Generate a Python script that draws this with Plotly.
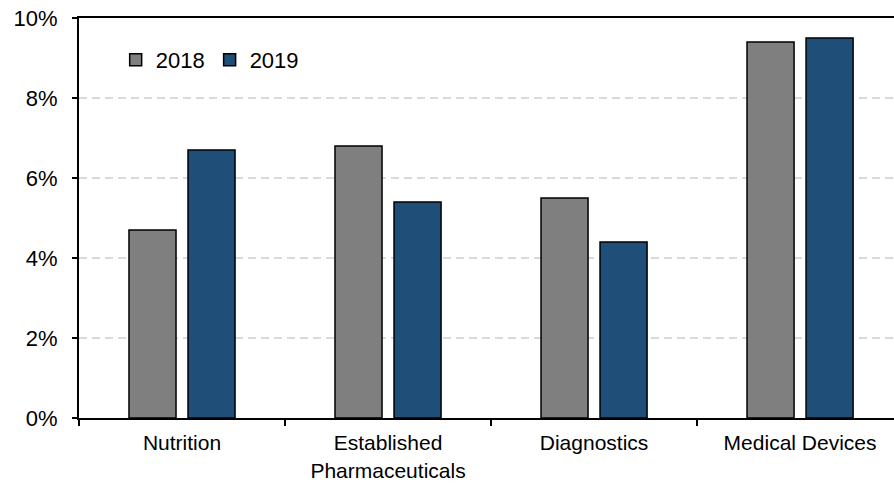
import plotly.graph_objects as go

categories = ["Nutrition", "Established<br>Pharmaceuticals", "Diagnostics", "Medical Devices"]
growth_2018 = [4.7, 6.8, 5.5, 9.4]
growth_2019 = [6.7, 5.4, 4.4, 9.5]
y_ticks = [0, 2, 4, 6, 8, 10]
y_tick_labels = ["0%", "2%", "4%", "6%", "8%", "10%"]

FONT = "Liberation Sans, Arial, sans-serif"

fig = go.Figure()
fig.add_trace(go.Bar(
    name="2018", x=categories, y=growth_2018,
    marker=dict(color="#7F7F7F", line=dict(color="#000000", width=1.5)),
))
fig.add_trace(go.Bar(
    name="2019", x=categories, y=growth_2019,
    marker=dict(color="#1F4E79", line=dict(color="#000000", width=1.5)),
))

fig.update_layout(
    width=894, height=485,
    margin=dict(l=79, r=0, t=18, b=67),
    paper_bgcolor="white", plot_bgcolor="white",
    font=dict(family=FONT, size=22, color="#000000"),
    barmode="group", bargap=0.427, bargroupgap=0.203,
    showlegend=True,
    legend=dict(
        orientation="h", x=0.045, y=0.895, xanchor="left", yanchor="middle",
        bgcolor="rgba(0,0,0,0)", font=dict(size=22), itemwidth=30,
        traceorder="normal",
    ),
)

fig.update_xaxes(
    type="category", range=[-0.5, 3.456], automargin=False,
    showline=True, linecolor="#000000", linewidth=2, mirror=True,
    ticks="outside", tickson="boundaries", ticklen=6, tickwidth=1.5, tickcolor="#000000",
    ticklabelstandoff=5, tickfont=dict(size=21),
    showgrid=False, zeroline=False,
)
fig.update_yaxes(
    range=[0, 10], tickvals=y_ticks, ticktext=y_tick_labels, automargin=False,
    showline=True, linecolor="#000000", linewidth=2,
    ticks="outside", ticklen=5, tickwidth=1.5, tickcolor="#000000",
    ticklabelstandoff=10,
    showgrid=True, gridcolor="#D9D9D9", gridwidth=1.5, griddash="8px,5px",
    zeroline=False,
)

fig.write_html("out.html")
